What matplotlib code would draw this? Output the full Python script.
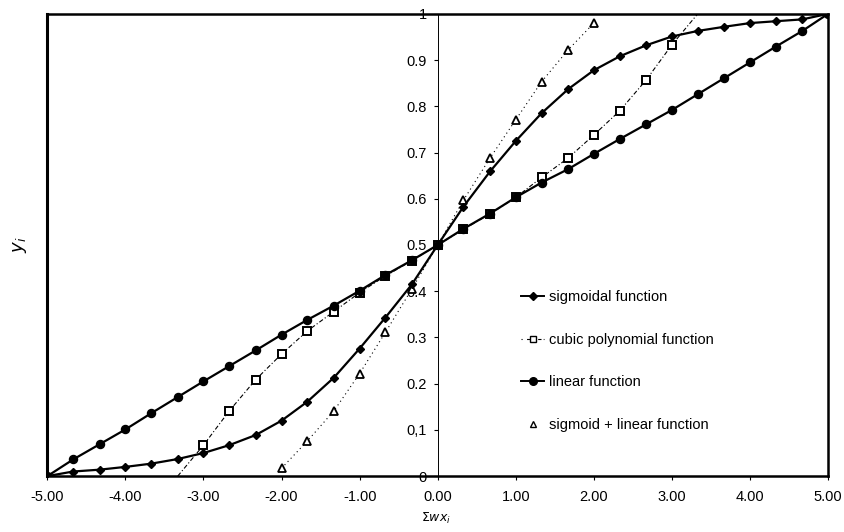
import matplotlib.pyplot as plt
from matplotlib.lines import Line2D

plt.rcParams['font.family'] = ['Liberation Sans', 'DejaVu Sans']

# x positions (steps of 1/3)
x_all = [-5.00, -4.67, -4.33, -4.00, -3.67, -3.33, -3.00, -2.67, -2.33, -2.00,
         -1.67, -1.33, -1.00, -0.67, -0.33, 0.00, 0.33, 0.67, 1.00, 1.33,
         1.67, 2.00, 2.33, 2.67, 3.00, 3.33, 3.67, 4.00, 4.33, 4.67, 5.00]

sigmoidal = [0.000, 0.010, 0.014, 0.020, 0.027, 0.037, 0.050, 0.067, 0.089, 0.120,
             0.161, 0.213, 0.276, 0.343, 0.415, 0.500, 0.583, 0.659, 0.725, 0.785,
             0.837, 0.878, 0.908, 0.932, 0.951, 0.963, 0.972, 0.980, 0.984, 0.988, 1.000]

linear = [0.000, 0.036, 0.069, 0.101, 0.136, 0.171, 0.205, 0.238, 0.272, 0.306,
          0.338, 0.369, 0.401, 0.435, 0.467, 0.500, 0.535, 0.568, 0.603, 0.635,
          0.664, 0.697, 0.729, 0.761, 0.792, 0.826, 0.861, 0.895, 0.929, 0.963, 1.000]

x_cubic = [-3.33, -3.00, -2.67, -2.33, -2.00, -1.67, -1.33, -1.00, -0.67, -0.33, 0.00,
           0.33, 0.67, 1.00, 1.33, 1.67, 2.00, 2.33, 2.67, 3.00, 3.33]
cubic = [0.000, 0.067, 0.141, 0.209, 0.264, 0.314, 0.356, 0.397, 0.433, 0.466, 0.500,
         0.534, 0.567, 0.603, 0.646, 0.688, 0.738, 0.790, 0.857, 0.933, 1.000]

x_siglin = [-2.00, -1.67, -1.33, -1.00, -0.67, -0.33, 0.00, 0.33, 0.67, 1.00, 1.33, 1.67, 2.00]
sig_lin = [0.017, 0.076, 0.141, 0.222, 0.311, 0.405, 0.500, 0.597, 0.688, 0.771, 0.853, 0.922, 0.980]

x_ticks = [-5, -4, -3, -2, -1, 0, 1, 2, 3, 4, 5]
x_labels = ["-5.00", "-4.00", "-3.00", "-2.00", "-1.00", "0.00", "1.00", "2.00", "3.00", "4.00", "5.00"]
y_ticks = [0, 0.1, 0.2, 0.3, 0.4, 0.5, 0.6, 0.7, 0.8, 0.9, 1.0]
y_labels = ["0", "0,1", "0.2", "0.3", "0.4", "0.5", "0.6", "0.7", "0.8", "0.9", "1"]

fig = plt.figure(figsize=(8.45, 5.32), dpi=100)
ax = fig.add_axes([0.056, 0.105, 0.924, 0.869])

ax.plot(x_cubic, cubic, color='black', lw=0.8, ls=(0, (4, 2, 1, 2)), marker='s', ms=5.5,
        mfc='white', mec='black', mew=1.4, markevery=slice(1, -1), zorder=2)
ax.plot(x_siglin, sig_lin, color='black', lw=0.8, ls=(0, (1, 3)), marker='^', ms=5.5,
        mfc='white', mec='black', mew=1.3, zorder=2)
ax.plot(x_all, linear, color='black', lw=1.6, marker='o', ms=5.8, zorder=3)
ax.plot(x_all, sigmoidal, color='black', lw=1.6, marker='D', ms=4.3, zorder=3)

ax.set_xlim(-5, 5)
ax.set_ylim(0, 1)

# y axis through x = 0, frame edge drawn separately
ax.spines['left'].set_position(('data', 0))
ax.spines['left'].set_linewidth(0.7)
ax.spines['left'].set_linestyle((0, (6, 1, 1, 1)))
ax.axvline(-5, color='black', lw=2.2, clip_on=False, zorder=5)
for s in ['top', 'right', 'bottom']:
    ax.spines[s].set_linewidth(1.8)

ax.set_xticks(x_ticks)
ax.set_xticklabels(x_labels, fontsize=10.5)
ax.set_yticks(y_ticks)
ax.set_yticklabels(y_labels, fontsize=10.5)
ax.tick_params(axis='x', direction='out', length=3, width=0.8, pad=7)
ax.tick_params(axis='y', direction='out', length=3, width=0.8, pad=5)

fig.text(0.024, 0.54, "$y_i$", rotation=90, fontsize=13, ha='center', va='center')
fig.text(0.516, 0.025, r"$\Sigma wx_i$", fontsize=9, ha='center', va='center')

handles = [
    Line2D([], [], color='black', lw=1.4, marker='D', ms=4),
    Line2D([], [], color='black', lw=0.8, ls=(0, (1, 4, 3, 2)), marker='s', ms=5,
           mfc='white', mec='black'),
    Line2D([], [], color='black', lw=1.4, marker='o', ms=5.5),
    Line2D([], [], ls='none', marker='^', ms=5, mfc='white', mec='black'),
]
labels = ["sigmoidal function", "cubic polynomial function", "linear function",
          "sigmoid + linear function"]
ax.legend(handles, labels, loc='upper left', bbox_to_anchor=(0.59, 0.43), frameon=False,
          fontsize=10.5, handlelength=1.6, handletextpad=0.3, labelspacing=1.95)

fig.savefig("out.png", dpi=100)
